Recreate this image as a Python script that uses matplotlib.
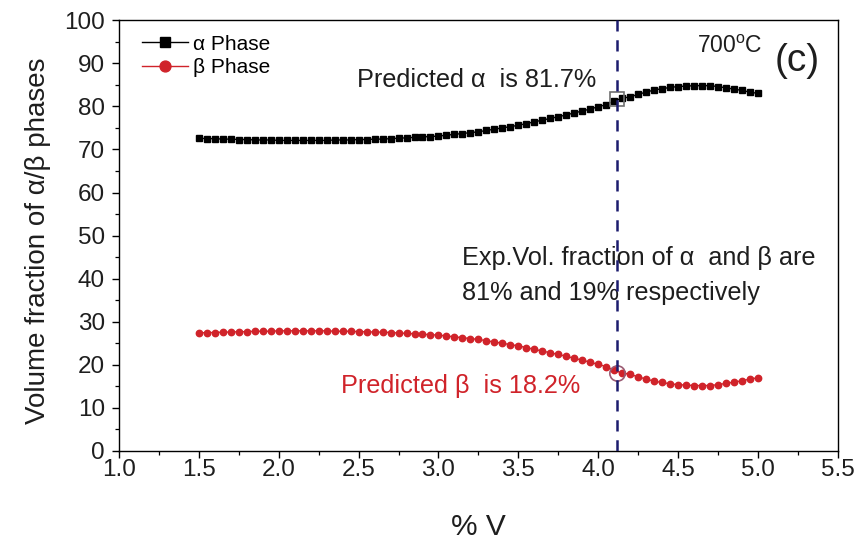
import numpy as np
import matplotlib
matplotlib.use("Agg")
import matplotlib.pyplot as plt
from matplotlib.ticker import MultipleLocator

# ---- data -------------------------------------------------------------
v_start, v_stop, n_pts = 1.5, 5.0, 71

alpha_phase = [
    72.6, 72.5, 72.5, 72.4, 72.4, 72.3, 72.3, 72.2, 72.2, 72.2,
    72.1, 72.1, 72.1, 72.1, 72.1, 72.1, 72.1, 72.2, 72.2, 72.2,
    72.3, 72.3, 72.4, 72.4, 72.5, 72.6, 72.7, 72.8, 72.9, 73.0,
    73.1, 73.3, 73.5, 73.7, 73.9, 74.1, 74.4, 74.7, 75.0, 75.3,
    75.6, 76.0, 76.4, 76.8, 77.2, 77.6, 78.0, 78.5, 78.9, 79.4,
    79.9, 80.4, 81.3, 81.9, 82.2, 82.8, 83.3, 83.8, 84.1, 84.4,
    84.6, 84.7, 84.8, 84.8, 84.8, 84.6, 84.3, 84.0, 83.7, 83.3,
    83.0,
]
beta_phase = [
    27.4, 27.5, 27.5, 27.6, 27.6, 27.7, 27.7, 27.8, 27.8, 27.8,
    27.9, 27.9, 27.9, 27.9, 27.9, 27.9, 27.9, 27.8, 27.8, 27.8,
    27.7, 27.7, 27.6, 27.6, 27.5, 27.4, 27.3, 27.2, 27.1, 27.0,
    26.9, 26.7, 26.5, 26.3, 26.1, 25.9, 25.6, 25.3, 25.0, 24.7,
    24.4, 24.0, 23.6, 23.2, 22.8, 22.4, 22.0, 21.5, 21.1, 20.6,
    20.1, 19.6, 18.7, 18.1, 17.8, 17.2, 16.7, 16.2, 15.9, 15.6,
    15.4, 15.3, 15.2, 15.2, 15.2, 15.4, 15.7, 16.0, 16.3, 16.7,
    17.0,
]
v_content = np.linspace(v_start, v_stop, n_pts)

v_pred = 4.12
alpha_pred = 81.7
beta_pred = 18.2

x_ticks = [1.0, 1.5, 2.0, 2.5, 3.0, 3.5, 4.0, 4.5, 5.0, 5.5]
y_ticks = [0, 10, 20, 30, 40, 50, 60, 70, 80, 90, 100]

# ---- style ------------------------------------------------------------
main_font = "Liberation Sans"
plt.rcParams["font.family"] = [main_font, "DejaVu Sans"]
plt.rcParams["mathtext.fontset"] = "custom"
plt.rcParams["mathtext.rm"] = main_font
plt.rcParams["mathtext.it"] = main_font

red = "#d0232a"
navy = "#1c1c6e"
ink = "#1e1e1e"
note_size = 18.2

fig = plt.figure(figsize=(8.62, 5.46), dpi=100)
ax = fig.add_axes([0.138, 0.174, 0.834, 0.789])

ax.plot(v_content, alpha_phase, color="black", lw=1.0, marker="s",
        markersize=4.2, label="\u03b1 Phase", zorder=3)
ax.plot(v_content, beta_phase, color=red, lw=1.0, marker="o",
        markersize=4.6, label="\u03b2 Phase", zorder=3)

# predicted values at the chosen V content
ax.plot([v_pred], [alpha_pred], marker="s", markersize=10.5, mfc="none",
        mec="#707070", mew=1.2, ls="none", zorder=4)
ax.plot([v_pred], [beta_pred], marker="o", markersize=11, mfc="none",
        mec="#9a5a72", mew=1.2, ls="none", zorder=4)
ax.plot([v_pred, v_pred], [0, 100], color=navy, lw=1.8,
        ls=(0, (4.5, 3.5)), zorder=5)

ax.set_xlim(1.0, 5.5)
ax.set_ylim(0, 100)
ax.set_xticks(x_ticks)
ax.set_yticks(y_ticks)
ax.set_xticklabels([f"{t:.1f}" for t in x_ticks])
ax.set_yticklabels([str(t) for t in y_ticks])
ax.xaxis.set_minor_locator(MultipleLocator(0.25))
ax.yaxis.set_minor_locator(MultipleLocator(5))
ax.tick_params(which="major", direction="out", length=5, width=1.0,
               colors="black", labelsize=17.5, labelcolor=ink)
ax.tick_params(axis="x", which="major", pad=1)
ax.tick_params(axis="y", which="major", pad=5)
ax.tick_params(which="minor", direction="out", length=3, width=0.9)
for s in ax.spines.values():
    s.set_linewidth(1.0)

ax.set_xlabel("% V", fontsize=21.5, labelpad=23, color=ink)
ax.set_ylabel("Volume fraction of \u03b1/\u03b2 phases", fontsize=20,
              color=ink)
ax.yaxis.set_label_coords(-0.094, 0.487)

leg = ax.legend(loc="upper left", frameon=False, fontsize=15,
                handlelength=2.2, handletextpad=0.25, borderaxespad=0.3,
                labelspacing=0.2, markerscale=1.7,
                bbox_to_anchor=(0.012, 1.0))

ax.text(2.49, 86.1, "Predicted \u03b1  is 81.7%", fontsize=note_size,
        va="center", ha="left", color=ink)
ax.text(4.62, 93.8, "700$^{\\mathrm{o}}$C", fontsize=16.5,
        va="center", ha="left", color=ink)
ax.text(5.105, 90.5, "(c)", fontsize=28, va="center", ha="left",
        color=ink)
ax.text(3.15, 44.8, "Exp.Vol. fraction of \u03b1  and \u03b2 are",
        fontsize=note_size, va="center", ha="left", color=ink, zorder=2)
ax.text(3.15, 36.6, "81% and 19% respectively", fontsize=note_size,
        va="center", ha="left", color=ink, zorder=2)
ax.text(2.39, 15.1, "Predicted \u03b2  is 18.2%", fontsize=note_size,
        va="center", ha="left", color=red)

fig.savefig("out.png", dpi=100)
